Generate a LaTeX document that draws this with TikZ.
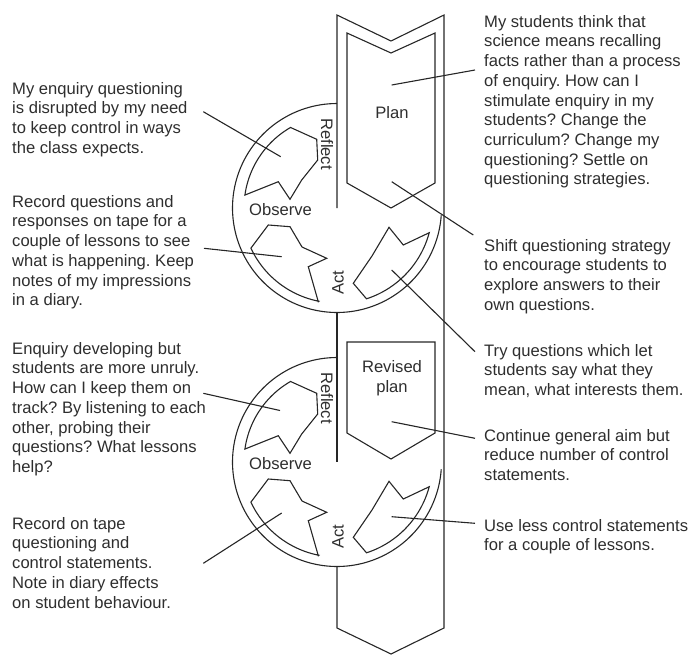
\documentclass[tikz,border=0pt]{standalone}
\usepackage{fontspec}
\setmainfont{Liberation Sans}
\frenchspacing
\begin{document}
\begin{tikzpicture}[x=1pt,y=-1pt,
  ln/.style={line width=1.1pt, draw=black!85, line join=miter},
  lead/.style={line width=1.1pt, draw=black!85},
  txt/.style={anchor=north west, inner sep=0pt, align=left, text=black!82, font=\fontsize{16.6}{19.7}\selectfont},
  lbl/.style={inner sep=0pt, text=black!82, font=\fontsize{16.6}{19.7}\selectfont}]
\useasboundingbox (0,0) rectangle (694,654);

% ---- the band (outer strip) ----
\draw[ln] (337,208) -- (337,15) -- (391,41) -- (444,15) -- (444,628) -- (391,654) -- (337,628) -- (337,567);
\draw[ln] (337,312) -- (337,462);

% ---- inner arrows ----
\draw[ln] (347,33) -- (391,53) -- (435,33) -- (435,183) -- (391,208) -- (347,183) -- cycle;
\draw[ln] (347,342) -- (435,342) -- (435,433) -- (391,459) -- (347,433) -- cycle;
\node[lbl] (plan) at (392,113) {Plan};
\node[lbl, align=center] (rplan) at (392,378) {Revised\\plan};

% ---- the two cycles ----
\foreach \dy/\n in {0/1, 254/2} {
\begin{scope}[shift={(0,\dy)}]
  \draw[ln] plot[domain=4:270, samples=120] ({337+104.5*cos(\x)},{208+104.5*sin(\x)});
  % reflect shape
  \draw[ln] plot[domain=188:240, samples=24] ({337+93*cos(\x)},{208+93*sin(\x)})
     -- (316.7,139.3) -- (317.7,160) -- (301.7,180) -- (290,199.3) -- (278.3,181.7) -- cycle;
  % observe shape
  \draw[ln] (268.3,225) -- (290,226.7) -- (302,247) -- (326.7,258.3) -- (308.3,266.7) -- (318.3,301.7)
     -- plot[domain=101:155, samples=24] ({337+95*cos(\x)},{208+95*sin(\x)}) -- cycle;
  % act shape
  \draw[ln] plot[domain=15:72, samples=24] ({337+95.5*cos(\x)},{208+95.5*sin(\x)})
     -- (353.3,283.3) -- (372,256) -- (389,227.3) -- (403.3,245) -- cycle;
  \node[lbl, rotate=-90] (reflect\n) at (327,144) {Reflect};
  \node[lbl] (observe\n) at (280.5,210) {Observe};
  \node[lbl, rotate=90] (act\n) at (338,282.5) {Act};
\end{scope}
}

% ---- text blocks ----
\node[txt] (l1) at (12,82) {My enquiry questioning\\is disrupted by my need\\to keep control in ways\\the class expects.};
\node[txt] (l2) at (12,195) {Record questions and\\responses on tape for a\\couple of lessons to see\\what is happening. Keep\\notes of my impressions\\in a diary.};
\node[txt] (l3) at (12,342) {Enquiry developing but\\students are more unruly.\\How can I keep them on\\track? By listening to each\\other, probing their\\questions? What lessons\\help?};
\node[txt] (l4) at (12,517) {Record on tape\\questioning and\\control statements.\\Note in diary effects\\on student behaviour.};
\node[txt] (r1) at (484,15) {My students think that\\science means recalling\\facts rather than a process\\of enquiry. How can I\\stimulate enquiry in my\\students? Change the\\curriculum? Change my\\questioning? Settle on\\questioning strategies.};
\node[txt] (r2) at (484,239) {Shift questioning strategy\\to encourage students to\\explore answers to their\\own questions.};
\node[txt] (r3) at (484,344) {Try questions which let\\students say what they\\mean, what interests them.};
\node[txt] (r4) at (484,429) {Continue general aim but\\reduce number of control\\statements.};
\node[txt] (r5) at (484,519) {Use less control statements\\for a couple of lessons.};

% ---- leader end points ----
\coordinate (e1) at (203.3,111.7); \coordinate (s1) at (280.7,156.7);
\coordinate (e2) at (204,248.3);   \coordinate (s2) at (281.7,256.7);
\coordinate (e3) at (475,70);      \coordinate (s3) at (391.7,85);
\coordinate (e4) at (473.3,235);   \coordinate (s4) at (391.7,181.7);
\coordinate (e5) at (475,351.7);   \coordinate (s5) at (391.7,270);
\coordinate (e6) at (203.3,393.3); \coordinate (s6) at (280,410.5);
\coordinate (e7) at (203.3,563.3); \coordinate (s7) at (281.7,513);
\coordinate (e8) at (475,438.3);   \coordinate (s8) at (391.7,421.7);
\coordinate (e9) at (475,523.3);   \coordinate (s9) at (391.7,516.7);
\foreach \i in {1,...,9} { \draw[lead] (e\i) -- (s\i); }
\end{tikzpicture}
\end{document}
